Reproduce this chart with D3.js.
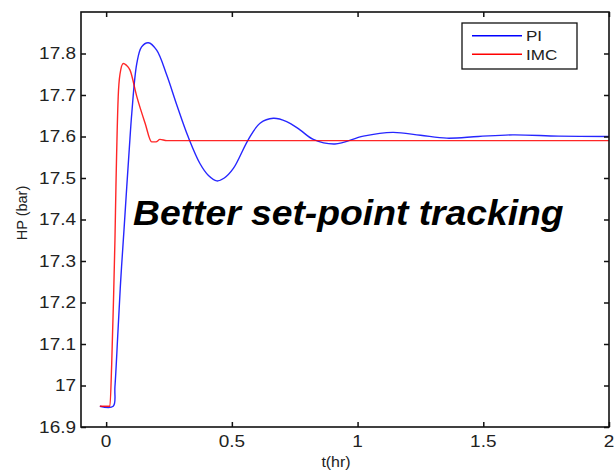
<!DOCTYPE html>
<html>
<head>
<meta charset="utf-8">
<script src="https://cdn.jsdelivr.net/npm/d3@7"></script>
<style>
  body { margin: 0; background: #fff; }
  text { font-family: "Liberation Sans", Arial, sans-serif; }
</style>
</head>
<body>
<div id="chart"></div>
<script>
// PI controller response
const piT  = [-0.025, 0.028, 0.035, 0.047, 0.058, 0.071, 0.082, 0.092, 0.102, 0.122, 0.141, 0.168, 0.201, 0.241, 0.281, 0.327, 0.373, 0.407, 0.44, 0.47, 0.506, 0.565, 0.612, 0.665, 0.718, 0.771, 0.824, 0.91, 1.023, 1.14, 1.25, 1.355, 1.48, 1.618, 1.8, 2.0];
const piHP = [16.95, 16.95, 16.997, 17.13, 17.254, 17.375, 17.479, 17.57, 17.656, 17.776, 17.816, 17.826, 17.808, 17.748, 17.676, 17.598, 17.535, 17.506, 17.493, 17.5, 17.523, 17.592, 17.632, 17.644, 17.636, 17.616, 17.593, 17.582, 17.601, 17.61, 17.603, 17.596, 17.6, 17.604, 17.601, 17.6];

// IMC controller response
const imcT  = [-0.025, 0.015, 0.022, 0.029, 0.035, 0.039, 0.048, 0.055, 0.068, 0.08, 0.095, 0.122, 0.155, 0.181, 0.198, 0.214, 0.241, 2.0];
const imcHP = [16.95, 16.95, 17.05, 17.2, 17.35, 17.48, 17.696, 17.75, 17.776, 17.772, 17.76, 17.696, 17.632, 17.587, 17.587, 17.593, 17.59, 17.59];

const xTicks = [0, 0.5, 1, 1.5, 2];
const xTickLabels = ["0", "0.5", "1", "1.5", "2"];
const yTicks = [16.9, 17, 17.1, 17.2, 17.3, 17.4, 17.5, 17.6, 17.7, 17.8];
const yTickLabels = ["16.9", "17", "17.1", "17.2", "17.3", "17.4", "17.5", "17.6", "17.7", "17.8"];

const seriesNames = ["PI", "IMC"];
const seriesColors = ["#0000ff", "#ff0000"];

const W = 614, H = 471;
const plotL = 81, plotR = 609, plotT = 12, plotB = 427;

const svg = d3.select("#chart").append("svg")
  .attr("width", W)
  .attr("height", H);

const x = d3.scaleLinear().domain([-0.1, 2]).range([plotL, plotR]);
const y = d3.scaleLinear().domain([16.9, 17.9]).range([plotB, plotT]);

// curves: smooth for PI, monotone for the sharper IMC response
const curves = [d3.curveCatmullRom.alpha(0.5), d3.curveMonotoneX];

const series = [
  d3.zip(piT, piHP),
  d3.zip(imcT, imcHP)
];

svg.append("g")
  .selectAll("path")
  .data(series)
  .enter().append("path")
  .attr("d", (d, i) => d3.line()
    .x(p => x(p[0]))
    .y(p => y(p[1]))
    .curve(curves[i])(d))
  .attr("fill", "none")
  .attr("stroke", (d, i) => seriesColors[i])
  .attr("stroke-width", 1.4)
  .attr("stroke-opacity", 0.85);

// axes: ticks inside on all four sides
const tickLen = 5;
svg.append("g")
  .attr("transform", `translate(0,${plotB})`)
  .call(d3.axisTop(x).tickValues(xTicks).tickSize(tickLen).tickFormat(""))
  .call(g => g.select(".domain").remove());
svg.append("g")
  .attr("transform", `translate(0,${plotT})`)
  .call(d3.axisBottom(x).tickValues(xTicks).tickSize(tickLen).tickFormat(""))
  .call(g => g.select(".domain").remove());
svg.append("g")
  .attr("transform", `translate(${plotL},0)`)
  .call(d3.axisRight(y).tickValues(yTicks).tickSize(tickLen).tickFormat(""))
  .call(g => g.select(".domain").remove());
svg.append("g")
  .attr("transform", `translate(${plotR},0)`)
  .call(d3.axisLeft(y).tickValues(yTicks).tickSize(tickLen).tickFormat(""))
  .call(g => g.select(".domain").remove());
svg.selectAll(".tick line").attr("stroke", "#111").attr("stroke-width", 1.5);

svg.append("rect")
  .attr("x", plotL).attr("y", plotT)
  .attr("width", plotR - plotL).attr("height", plotB - plotT)
  .attr("fill", "none")
  .attr("stroke", "#111")
  .attr("stroke-width", 1.6);

// tick labels
const sx = 1.15;
svg.append("g")
  .selectAll("text")
  .data(yTicks)
  .enter().append("text")
  .attr("transform", d => `translate(${plotL - 5},${y(d)}) scale(${sx},1)`)
  .attr("text-anchor", "end")
  .attr("dy", "0.35em")
  .attr("font-size", 16.5)
  .attr("fill", "#222")
  .text((d, i) => yTickLabels[i]);

svg.append("g")
  .selectAll("text")
  .data(xTicks)
  .enter().append("text")
  .attr("transform", d => `translate(${x(d)},447) scale(${sx},1)`)
  .attr("text-anchor", "middle")
  .attr("font-size", 16.5)
  .attr("fill", "#222")
  .text((d, i) => xTickLabels[i]);

// axis titles
svg.append("text")
  .attr("transform", `translate(336,467) scale(1.1,1)`)
  .attr("text-anchor", "middle")
  .attr("font-size", 14.5)
  .attr("fill", "#222")
  .text("t(hr)");

svg.append("text")
  .attr("transform", `translate(27,213) rotate(-90)`)
  .attr("text-anchor", "middle")
  .attr("font-size", 14.5)
  .attr("fill", "#222")
  .text("HP (bar)");

// annotation
svg.append("text")
  .attr("transform", `translate(133,225) scale(1.065,1)`)
  .attr("font-size", 35)
  .attr("font-weight", "bold")
  .attr("font-style", "italic")
  .attr("fill", "#000")
  .text("Better set-point tracking");

// legend
const legend = svg.append("g");
legend.append("rect")
  .attr("x", 462).attr("y", 23)
  .attr("width", 115).attr("height", 46)
  .attr("fill", "#fff")
  .attr("stroke", "#111")
  .attr("stroke-width", 1.3);
const items = legend.selectAll("g.item")
  .data(seriesNames)
  .enter().append("g")
  .attr("class", "item")
  .attr("transform", (d, i) => `translate(0,${35.7 + i * 18.6})`);
items.append("line")
  .attr("x1", 472).attr("x2", 522)
  .attr("stroke", (d, i) => seriesColors[i])
  .attr("stroke-width", 1.4);
items.append("text")
  .attr("transform", `translate(526,0) scale(1.1,1)`)
  .attr("dy", "0.36em")
  .attr("font-size", 15.5)
  .attr("fill", "#222")
  .text(d => d);
</script>
</body>
</html>
